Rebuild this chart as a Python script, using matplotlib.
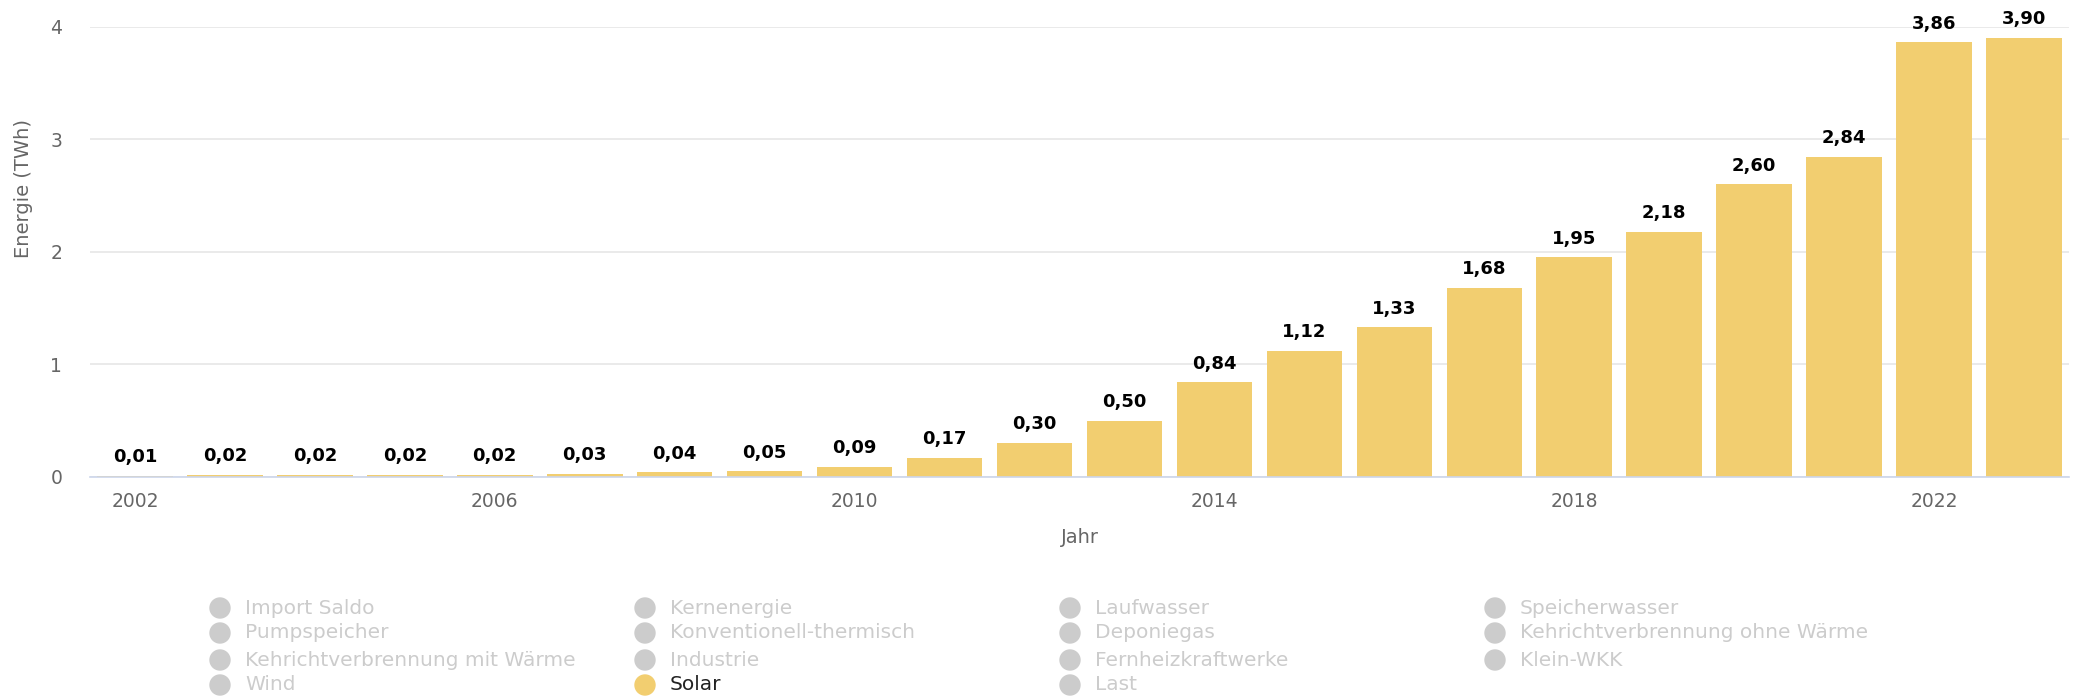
import matplotlib
matplotlib.use('Agg')
import matplotlib.pyplot as plt
import numpy as np

years = list(range(2002, 2024))
solar = [0.01, 0.02, 0.02, 0.02, 0.02, 0.03, 0.04, 0.05, 0.09, 0.17, 0.30,
         0.50, 0.84, 1.12, 1.33, 1.68, 1.95, 2.18, 2.60, 2.84, 3.86, 3.90]
tick_years = [2002, 2006, 2010, 2014, 2018, 2022]
legend_names = ["Import Saldo", "Kernenergie", "Laufwasser", "Speicherwasser",
                "Pumpspeicher", "Konventionell-thermisch", "Deponiegas",
                "Kehrichtverbrennung ohne Wärme",
                "Kehrichtverbrennung mit Wärme", "Industrie",
                "Fernheizkraftwerke", "Klein-WKK",
                "Wind", "Solar", "Last"]
active = "Solar"

bar_color = "#F2CE70"
W, H = 2082, 696

fig = plt.figure(figsize=(W / 100, H / 100), dpi=100)
ax = fig.add_axes([90 / W, 1 - 477 / H, (2069 - 90) / W, (477 - 26.6) / H])

x = np.arange(len(years))
ax.bar(x, solar, width=0.84, color=bar_color, zorder=2)
for xi, v in zip(x, solar):
    ax.annotate(f"{v:.2f}".replace(".", ","), (xi, v), xytext=(0, 7),
                textcoords="offset points", ha="center", va="bottom",
                fontsize=13, fontweight="bold", color="#000000")

ax.set_xlim(-0.5, len(years) - 0.5)
ax.set_ylim(0, 4)
ax.set_yticks([0, 1, 2, 3, 4])
ax.set_yticklabels(["0", "1", "2", "3", "4"])
ax.set_xticks([years.index(y) for y in tick_years])
ax.set_xticklabels([str(y) for y in tick_years])
ax.tick_params(axis="both", length=0, labelsize=13.5, colors="#666666")
ax.tick_params(axis="x", pad=11)
ax.tick_params(axis="y", pad=20)
ax.grid(axis="y", color="#e6e6e6", linewidth=1.2, zorder=0)
ax.set_axisbelow(True)
for s in ["top", "right", "left"]:
    ax.spines[s].set_visible(False)
ax.spines["bottom"].set_color("#ccd6eb")
ax.spines["bottom"].set_linewidth(1.2)
ax.spines["bottom"].set_zorder(3)
ax.set_xlabel("Jahr", fontsize=14, color="#666666", labelpad=12)
ax.set_ylabel("Energie (TWh)", fontsize=14, color="#666666")
ax.yaxis.set_label_coords(-0.0288, 0.64)

# legend laid out in 4 columns like the original
col_x = [220, 645, 1070, 1495]
row_y = [608, 633, 660, 685]
for i, name in enumerate(legend_names):
    cx = col_x[i % 4]
    cy = row_y[i // 4]
    on = name == active
    fig.patches.append(matplotlib.patches.Ellipse(
        (cx / W, 1 - cy / H), 20 / W, 20 / H, transform=fig.transFigure,
        color=bar_color if on else "#cccccc"))
    fig.text((cx + 25) / W, 1 - cy / H, name, ha="left", va="center",
             fontsize=14.5, color="#222222" if on else "#cccccc")

fig.savefig("out.png", dpi=100)
